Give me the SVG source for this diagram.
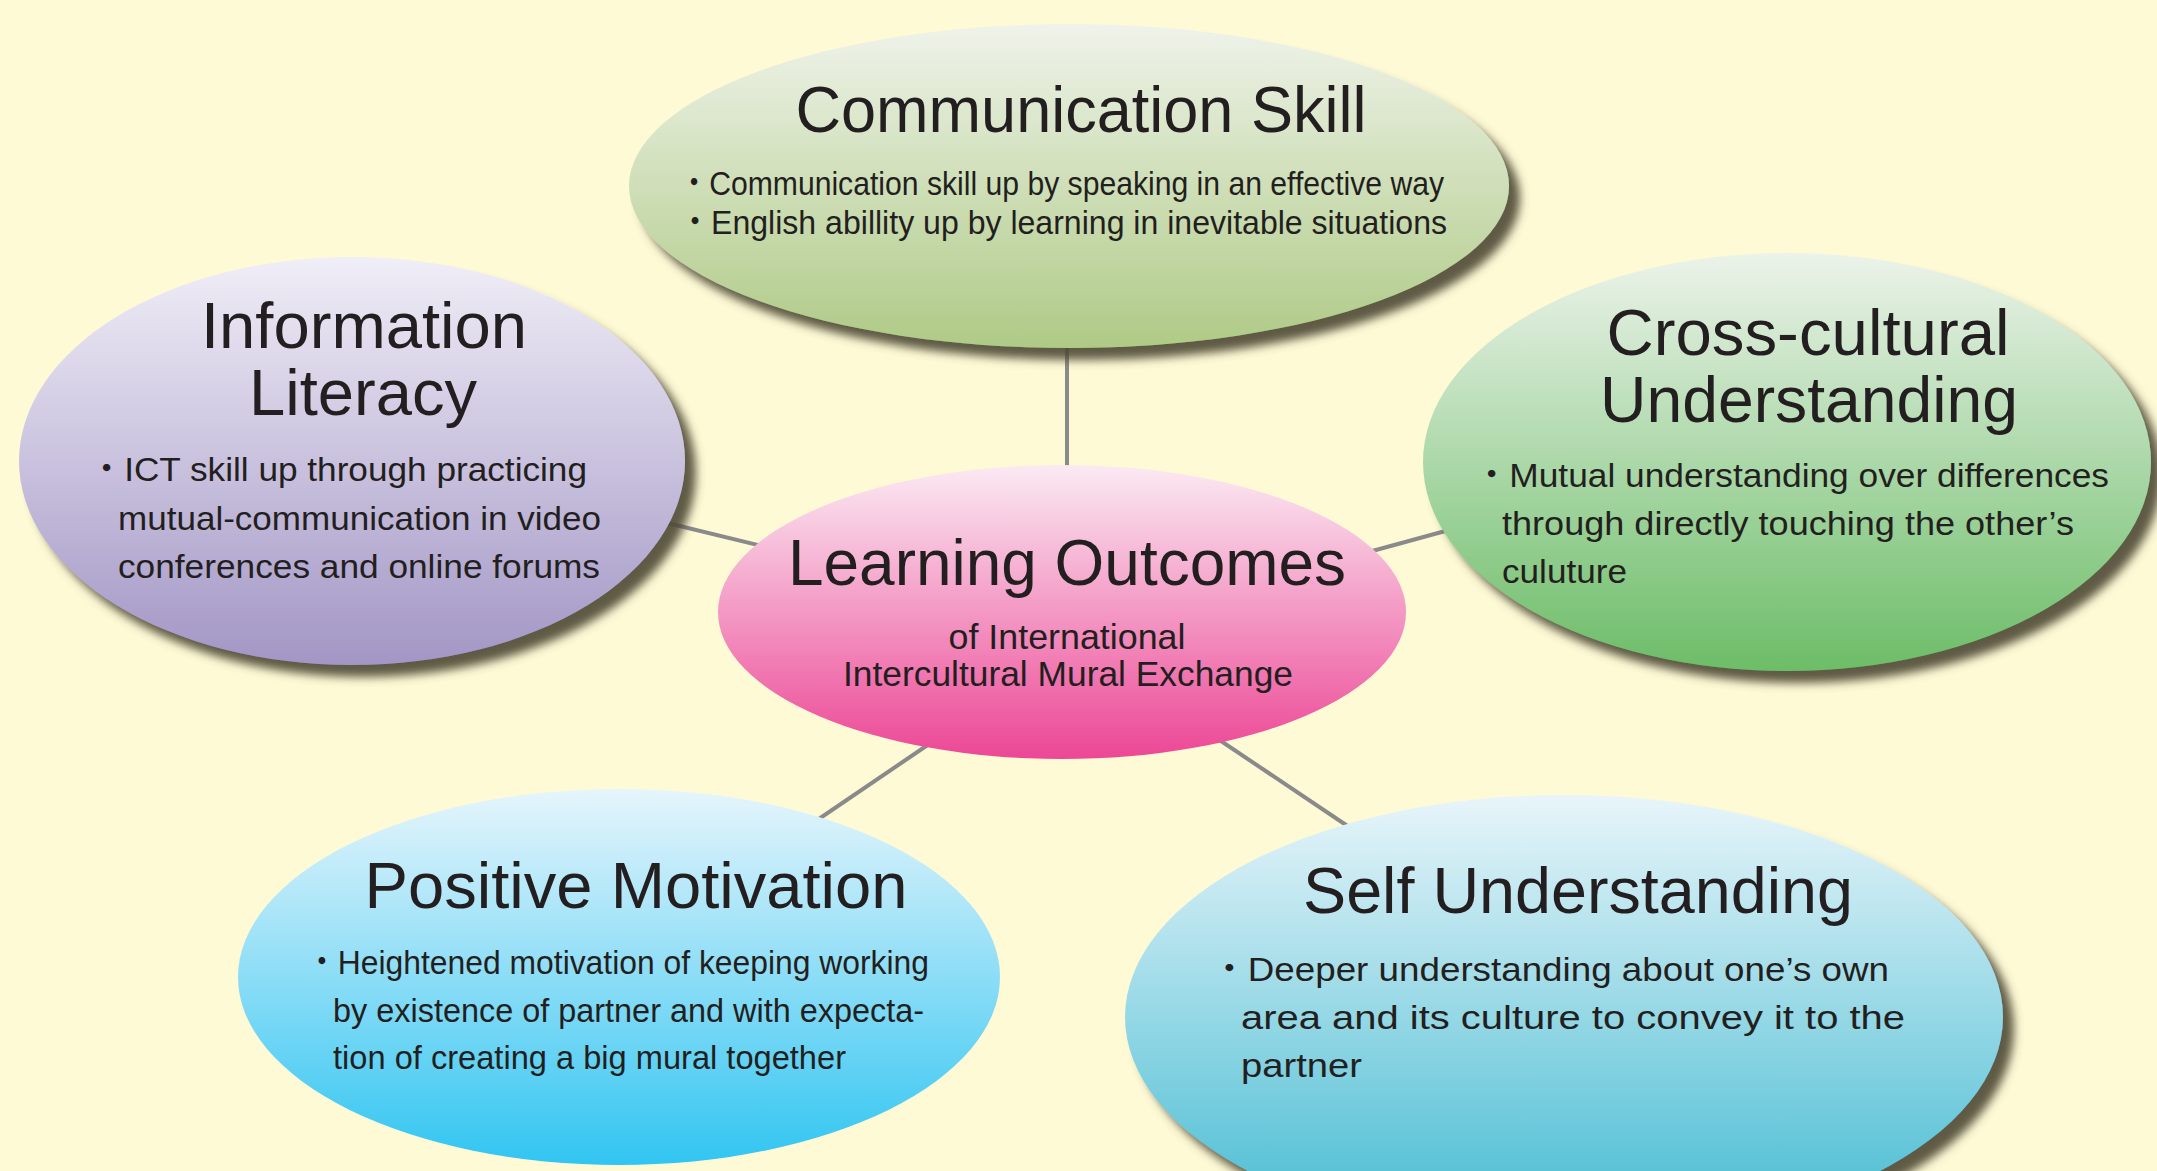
<svg xmlns="http://www.w3.org/2000/svg" width="2157" height="1171" viewBox="0 0 2157 1171">
<style>
.t{font-family:"Liberation Sans","Noto Sans CJK JP",sans-serif;fill:#231f20;}
.title{font-size:64px;text-anchor:middle;}
.sub{font-size:35px;text-anchor:middle;}
.body{font-size:34px;}
.conn{stroke:#8a8a8a;stroke-width:4;fill:none;}
</style>
<defs>
<filter id="sh" x="-10%" y="-10%" width="125%" height="130%">
<feDropShadow dx="11" dy="12" stdDeviation="5" flood-color="#4d4935" flood-opacity="0.9"/>
</filter>
<linearGradient id="gC" x1="0" y1="0" x2="0" y2="1"><stop offset="0" stop-color="#eff3ea"/><stop offset="1" stop-color="#afca86"/></linearGradient>
<linearGradient id="gI" x1="0" y1="0" x2="0" y2="1"><stop offset="0" stop-color="#f0eef7"/><stop offset="1" stop-color="#a396c5"/></linearGradient>
<linearGradient id="gX" x1="0" y1="0" x2="0" y2="1"><stop offset="0" stop-color="#ecf3ea"/><stop offset="1" stop-color="#6cbd68"/></linearGradient>
<linearGradient id="gL" x1="0" y1="0" x2="0" y2="1"><stop offset="0" stop-color="#fbeaf3"/><stop offset="1" stop-color="#ec4795"/></linearGradient>
<linearGradient id="gP" x1="0" y1="0" x2="0" y2="1"><stop offset="0" stop-color="#e6f5fc"/><stop offset="1" stop-color="#31c5f1"/></linearGradient>
<linearGradient id="gS" x1="0" y1="0" x2="0" y2="1"><stop offset="0" stop-color="#e8f5fa"/><stop offset="1" stop-color="#42bad1"/></linearGradient>
</defs>
<rect width="2157" height="1171" fill="#fefad6"/>
<g id="connectors">
<line class="conn" x1="1067" y1="330" x2="1067" y2="480"/>
<line class="conn" x1="655" y1="520" x2="770" y2="548"/>
<line class="conn" x1="1365" y1="553" x2="1460" y2="527"/>
<line class="conn" x1="810" y1="825" x2="935" y2="740"/>
<line class="conn" x1="1215" y1="737" x2="1352" y2="829"/>
</g>
<g id="communication-skill">
<ellipse cx="1069" cy="186" rx="440" ry="162" fill="url(#gC)" filter="url(#sh)"/>
<text class="t title" x="1081" y="132" textLength="571" lengthAdjust="spacingAndGlyphs">Communication Skill</text>
<text class="t body" x="679" y="195" font-size="32" textLength="765" lengthAdjust="spacingAndGlyphs">・Communication skill up by speaking in an effective way</text>
<text class="t body" x="679" y="234" font-size="32" textLength="768" lengthAdjust="spacingAndGlyphs">・English abillity up by learning in inevitable situations</text>
</g>
<g id="information-literacy">
<ellipse cx="352" cy="461" rx="333" ry="204" fill="url(#gI)" filter="url(#sh)"/>
<text class="t title" x="364" y="348" textLength="326" lengthAdjust="spacingAndGlyphs">Information</text>
<text class="t title" x="363" y="415" textLength="228" lengthAdjust="spacingAndGlyphs">Literacy</text>
<text class="t body" x="89" y="481" textLength="498" lengthAdjust="spacingAndGlyphs">・ICT skill up through practicing</text>
<text class="t body" x="118" y="530" textLength="483" lengthAdjust="spacingAndGlyphs">mutual-communication in video</text>
<text class="t body" x="118" y="578" textLength="482" lengthAdjust="spacingAndGlyphs">conferences and online forums</text>
</g>
<g id="cross-cultural-understanding">
<ellipse cx="1787" cy="462" rx="364" ry="209" fill="url(#gX)" filter="url(#sh)"/>
<text class="t title" x="1808" y="355" textLength="403" lengthAdjust="spacingAndGlyphs">Cross-cultural</text>
<text class="t title" x="1809" y="422" textLength="418" lengthAdjust="spacingAndGlyphs">Understanding</text>
<text class="t body" x="1474" y="487" textLength="635" lengthAdjust="spacingAndGlyphs">・Mutual understanding over differences</text>
<text class="t body" x="1502" y="535" textLength="572" lengthAdjust="spacingAndGlyphs">through directly touching the other’s</text>
<text class="t body" x="1502" y="583" textLength="125" lengthAdjust="spacingAndGlyphs">culuture</text>
</g>
<g id="learning-outcomes">
<ellipse cx="1062" cy="612" rx="344" ry="147" fill="url(#gL)"/>
<text class="t title" x="1067" y="585" textLength="558" lengthAdjust="spacingAndGlyphs">Learning Outcomes</text>
<text class="t sub" x="1067" y="649" textLength="237" lengthAdjust="spacingAndGlyphs">of International</text>
<text class="t sub" x="1068" y="686" textLength="450" lengthAdjust="spacingAndGlyphs">Intercultural Mural Exchange</text>
</g>
<g id="positive-motivation">
<ellipse cx="619" cy="977" rx="381" ry="188" fill="url(#gP)"/>
<text class="t title" x="636" y="908" textLength="543" lengthAdjust="spacingAndGlyphs">Positive Motivation</text>
<text class="t body" x="306" y="974" textLength="623" lengthAdjust="spacingAndGlyphs">・Heightened motivation of keeping working</text>
<text class="t body" x="333" y="1022" textLength="591" lengthAdjust="spacingAndGlyphs">by existence of partner and with expecta-</text>
<text class="t body" x="333" y="1069" textLength="513" lengthAdjust="spacingAndGlyphs">tion of creating a big mural together</text>
</g>
<g id="self-understanding">
<ellipse cx="1564" cy="1017" rx="439" ry="222" fill="url(#gS)" filter="url(#sh)"/>
<text class="t title" x="1578" y="913" textLength="550" lengthAdjust="spacingAndGlyphs">Self Understanding</text>
<text class="t body" x="1211" y="981" textLength="678" lengthAdjust="spacingAndGlyphs">・Deeper understanding about one’s own</text>
<text class="t body" x="1241" y="1029" textLength="664" lengthAdjust="spacingAndGlyphs">area and its culture to convey it to the</text>
<text class="t body" x="1241" y="1077" textLength="121" lengthAdjust="spacingAndGlyphs">partner</text>
</g>
</svg>
